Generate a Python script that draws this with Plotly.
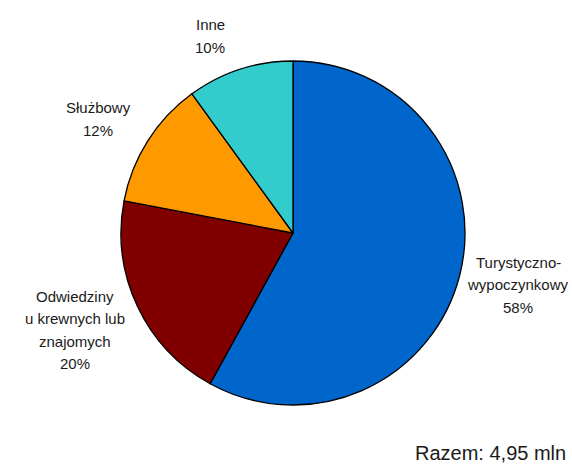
import plotly.graph_objects as go

# Data
categories = ["Turystyczno-\nwypoczynkowy", "Odwiedziny\nu krewnych lub\nznajomych", "Służbowy", "Inne"]
values = [58, 20, 12, 10]
colors = ["#0066CC", "#800000", "#FF9900", "#33CCCC"]
total_text = "Razem: 4,95 mln"

W, H = 572, 471
cx, cy, r = 293, 233, 172

fig = go.Figure(go.Pie(
    labels=[c.replace("\n", " ") for c in categories],
    values=values,
    sort=False,
    direction="clockwise",
    rotation=0,
    marker=dict(colors=colors, line=dict(color="#000000", width=1.3)),
    textinfo="none",
    hoverinfo="label+percent",
    domain=dict(x=[(cx - r) / W, (cx + r) / W], y=[(H - cy - r) / H, (H - cy + r) / H]),
    showlegend=False,
))

# label anchor centres (pixels) and line spacing
label_pos = [(518, 262), (75, 296), (98, 108), (210, 25)]
spacing = 22.5
font = dict(family="Liberation Sans, Arial, sans-serif", size=15, color="#1a1a1a")
for cat, val, (lx, ly) in zip(categories, values, label_pos):
    lines = cat.split("\n") + [f"{val}%"]
    for i, ln in enumerate(lines):
        fig.add_annotation(x=lx / W, y=1 - (ly + i * spacing) / H, xref="paper", yref="paper",
                           text=ln, showarrow=False, xanchor="center", yanchor="middle", font=font)

fig.add_annotation(x=568 / W, y=1 - 453 / H, xref="paper", yref="paper", text=total_text,
                   showarrow=False, xanchor="right", yanchor="middle",
                   font=dict(family="Liberation Sans, Arial, sans-serif", size=20, color="#1a1a1a"))

fig.update_layout(width=W, height=H, margin=dict(l=0, r=0, t=0, b=0),
                  paper_bgcolor="white", plot_bgcolor="white")
fig.write_html("out.html", config={"displayModeBar": False},
               post_script="document.body.style.margin='0';document.body.style.overflow='hidden';")
